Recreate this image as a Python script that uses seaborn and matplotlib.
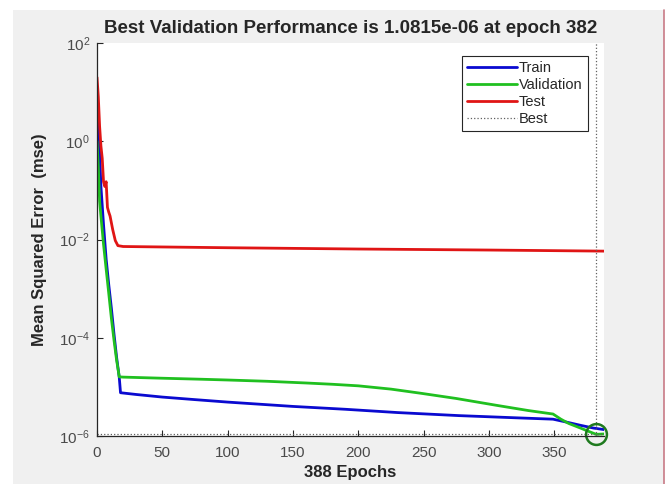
"""
MATLAB-style training performance plot (train / validation / test MSE)
"""
import numpy as np
import pandas as pd
import matplotlib
matplotlib.use("Agg")
import matplotlib.pyplot as plt
from matplotlib.patches import Rectangle
from matplotlib.lines import Line2D
import seaborn as sns

# values
train_epochs = [0, 1, 2, 3, 5, 7, 9, 11, 13, 15, 16, 17, 18,
                30, 50, 75, 100, 150, 190, 230, 277, 320, 349, 360, 370, 380, 388]
train_mse = [5.0, 3.0, 0.6, 0.12, 0.02, 4e-3, 1.2e-3, 4e-4, 1.2e-4, 4e-5, 2.5e-5, 1.6e-5, 7.6e-6,
             7.0e-6, 6.2e-6, 5.5e-6, 4.9e-6, 4.0e-6, 3.5e-6, 3.0e-6, 2.6e-6, 2.35e-6, 2.2e-6,
             1.9e-6, 1.65e-6, 1.45e-6, 1.35e-6]

val_epochs = [0, 1, 2, 3, 5, 7, 9, 11, 13, 15, 16, 17,
              20, 50, 80, 100, 130, 160, 180, 200, 225, 248, 275, 306, 330, 349,
              355, 361, 370, 376, 382, 388]
val_mse = [1.0, 0.3, 0.06, 0.03, 0.008, 2.5e-3, 8e-4, 2.5e-4, 9e-5, 3.5e-5, 2.4e-5, 1.6e-5,
           1.58e-5, 1.5e-5, 1.43e-5, 1.38e-5, 1.3e-5, 1.2e-5, 1.13e-5, 1.05e-5, 9.0e-6,
           7.4e-6, 5.8e-6, 4.2e-6, 3.3e-6, 2.8e-6,
           2.2e-6, 1.8e-6, 1.45e-6, 1.25e-6, 1.0815e-6, 1.1e-6]

test_epochs = [0, 1, 2, 3, 4, 5, 6, 7, 8, 9, 10, 12, 14, 16, 20, 100, 200, 300, 388]
test_mse = [20.0, 8.0, 2.0, 0.8, 0.45, 0.15, 0.12, 0.15, 0.045, 0.036, 0.03, 0.016, 0.0095,
            0.0075, 0.0072, 0.0068, 0.0064, 0.0061, 0.0058]

best_epoch = 382
best_perf = 1.0815e-06
n_epochs = 388

x_ticks = [0, 50, 100, 150, 200, 250, 300, 350]
y_ticks = [1e-6, 1e-4, 1e-2, 1e0, 1e2]

sns.set_style("ticks")
plt.rcParams["font.family"] = ["Liberation Sans", "DejaVu Sans"]
plt.rcParams["mathtext.default"] = "regular"

fig = plt.figure(figsize=(6.7, 4.84), dpi=100)
fig.patch.set_facecolor("white")
# grey figure window + border like the screenshot
fig.patches.append(Rectangle((13 / 670, 0), (664 - 13) / 670, 1 - 10 / 484,
                             transform=fig.transFigure, facecolor="#f0f0f0",
                             edgecolor="none", zorder=-10))
fig.lines.append(Line2D([664 / 670, 664 / 670], [0, 1 - 10 / 484],
                        transform=fig.transFigure, color="#c87a86", lw=1.2))

ax = fig.add_axes([97 / 670, 1 - 436 / 484, (604 - 97) / 670, (436 - 43) / 484])
ax.set_facecolor("white")

df_train = pd.DataFrame({"epoch": train_epochs, "mse": train_mse})
df_val = pd.DataFrame({"epoch": val_epochs, "mse": val_mse})
df_test = pd.DataFrame({"epoch": test_epochs, "mse": test_mse})

sns.lineplot(data=df_train, x="epoch", y="mse", ax=ax, color="#0a0ad0", lw=2.0, label="Train")
sns.lineplot(data=df_val, x="epoch", y="mse", ax=ax, color="#20c020", lw=2.0, label="Validation")
sns.lineplot(data=df_test, x="epoch", y="mse", ax=ax, color="#e01515", lw=2.0, label="Test")

ax.set_yscale("log")
ax.set_xlim(0, n_epochs)
ax.set_ylim(1e-6, 1e2)

ax.axvline(best_epoch, color="#606060", ls=":", lw=0.9, label="Best")
ax.axhline(best_perf, color="#606060", ls=":", lw=0.9)
ax.plot([best_epoch], [best_perf], marker="o", ms=15, mfc="none", mec="#1f7a1f", mew=1.8,
        clip_on=False)

ax.set_xticks(x_ticks)
ax.set_yticks(y_ticks)
ax.minorticks_off()
ax.yaxis.set_minor_locator(matplotlib.ticker.NullLocator())
ax.tick_params(direction="in", length=4, width=0.8, labelsize=11, colors="#262626",
               labelcolor="#4a4a4a")
ax.tick_params(axis="x", pad=7)
ax.tick_params(axis="y", pad=5)

for side in ["top", "right"]:
    ax.spines[side].set_visible(False)
for side in ["left", "bottom"]:
    ax.spines[side].set_color("#262626")
    ax.spines[side].set_linewidth(0.9)

ax.set_title("Best Validation Performance is 1.0815e-06 at epoch 382",
             fontsize=13.5, fontweight="bold", pad=7)
ax.set_xlabel("388 Epochs", fontsize=12, fontweight="bold", labelpad=4)
ax.set_ylabel("Mean Squared Error  (mse)", fontsize=12, fontweight="bold", labelpad=9)

leg = ax.legend(loc="upper right", bbox_to_anchor=(0.968, 0.967), fontsize=10.5,
                handlelength=3.4, handletextpad=0.15, labelspacing=0.2,
                borderpad=0.35, borderaxespad=0, fancybox=False, framealpha=1,
                edgecolor="#262626")
leg.get_frame().set_linewidth(0.8)

fig.savefig("out.png", dpi=100, facecolor=fig.get_facecolor())
